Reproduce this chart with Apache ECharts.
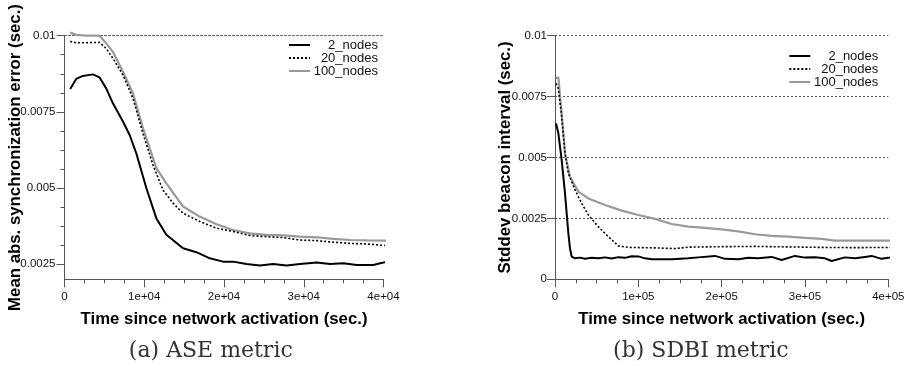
<!DOCTYPE html>
<html><head><meta charset="utf-8">
<script src="https://cdn.jsdelivr.net/npm/echarts@6/dist/echarts.min.js"></script>
<style>html,body{margin:0;padding:0;background:#fff}#c{width:915px;height:368px}</style>
</head><body><div id="c"></div>
<script>
// ---- Data: (a) ASE metric ----
const aseT2 = [712,1466,2300,3560,4400,5230,6070,7330,8170,9000,10260,11520,12770,14870,16540,18220,19890,21150,22820,24500,26170,27850,29520,31620,33290,34970,36640,38740,39570,40700];
const aseV2 = [0.00825,0.00858,0.00868,0.00873,0.00863,0.00827,0.00778,0.00718,0.00674,0.00614,0.0050,0.0040,0.00346,0.00302,0.00289,0.00269,0.00258,0.00258,0.0025,0.00245,0.0025,0.00245,0.0025,0.00255,0.0025,0.00253,0.00247,0.00247,0.00253,0.00258];
const aseT20 = [712,1466,2720,4400,5230,6070,7330,8590,9840,11100,12350,13610,14870,16960,19050,21150,23240,25330,27430,29520,31620,33710,35800,37900,40700];
const aseV20 = [0.00981,0.00977,0.00977,0.00978,0.00958,0.00926,0.00871,0.00794,0.00679,0.00575,0.00493,0.0045,0.00417,0.0039,0.00368,0.00357,0.00344,0.0034,0.00337,0.00329,0.00327,0.00322,0.00318,0.00316,0.0031];
const aseT100 = [712,1466,2720,4400,5230,6070,7330,8590,9840,11520,12770,14870,16960,19050,21150,23240,25330,27430,29520,31620,33710,35800,37900,40700];
const aseV100 = [0.0101,0.01003,0.01,0.01,0.00975,0.00947,0.00882,0.0081,0.00696,0.00565,0.00515,0.00439,0.00406,0.00381,0.00362,0.00351,0.00346,0.00344,0.0034,0.00338,0.00333,0.00329,0.00328,0.00327];

// ---- Data: (b) SDBI metric ----
const sdT2 = [1200,4000,8000,12000,16000,18000,20000,24000,30000,36000,44000,52000,60000,68000,76000,84000,92000,100000,108000,116000,140000,160000,172000,192000,204000,220000,232000,244000,260000,272000,288000,300000,312000,324000,332000,348000,360000,372000,380000,392000,400000,408000];
const sdV2 = [0.0064,0.0060,0.0049,0.00353,0.00189,0.00127,0.00093,0.00086,0.00089,0.00084,0.00088,0.00086,0.00090,0.00085,0.00091,0.00088,0.00095,0.00094,0.00086,0.00082,0.00082,0.00086,0.00090,0.00096,0.00084,0.00082,0.00088,0.00086,0.00092,0.00079,0.00096,0.00089,0.00091,0.00086,0.00075,0.00090,0.00086,0.00092,0.00096,0.00084,0.00088,0.00093];
const sdT20 = [1200,4000,8000,12000,16000,24000,32000,40000,52000,64000,76000,88000,120000,144000,160000,200000,240000,280000,320000,360000,408000];
const sdV20 = [0.00804,0.00784,0.00668,0.00517,0.00435,0.00367,0.00312,0.00264,0.00216,0.00175,0.00137,0.00131,0.00129,0.00126,0.00132,0.00134,0.00135,0.00133,0.00131,0.0013,0.00131];
const sdT100 = [1200,4000,8000,12000,18000,28000,40000,60000,80000,100000,120000,140000,160000,180000,200000,220000,240000,260000,280000,300000,320000,336000,370000,408000];
const sdV100 = [0.00825,0.00829,0.00681,0.00517,0.00421,0.0036,0.00332,0.00305,0.00282,0.00264,0.00248,0.00227,0.00216,0.00211,0.00205,0.00197,0.00185,0.00178,0.00175,0.0017,0.00166,0.00159,0.00159,0.00159];

// ---- Labels / ticks ----
const seriesNames = ['2_nodes','20_nodes','100_nodes'];
const xLabelsA = ['0','1e+04','2e+04','3e+04','4e+04'];
const xLabelsB = ['0','1e+05','2e+05','3e+05','4e+05'];
const yTicksA = [0.0025,0.005,0.0075,0.01];
const yLabelsA = ['0.0025','0.005','0.0075','0.01'];
const yMinorA = [0.003125,0.00375,0.004375,0.005625,0.00625,0.006875,0.008125,0.00875,0.009375];
const yLabelsB = ['0','0.0025','0.005','0.0075','0.01'];

const pairs = (t, v) => t.map((x, i) => [x, v[i]]);
const FONT = 'Liberation Sans';
const styles = [
  {color:'#000', width:2, type:'solid'},
  {color:'#000', width:1.6, type:[2,2]},
  {color:'#999', width:2.2, type:'solid'}
];
const axisCol = '#555';
const nameStyle = {fontSize:16.8, fontWeight:'bold', fontFamily:FONT, color:'#000'};
const LEGEND_A_LEFT = 283;

function mkSeries(name, idx, data, gi, extra) {
  return Object.assign({
    name, type:'line', xAxisIndex: gi, yAxisIndex: gi === 0 ? 0 : 2,
    data, symbol:'none', showSymbol:false, clip:false, animation:false,
    lineStyle: Object.assign({}, styles[idx]), itemStyle:{color: styles[idx].color},
    z: 3 - idx
  }, extra || {});
}

const chart = echarts.init(document.getElementById('c'), null, {renderer:'canvas'});
const legendCommon = {
  orient:'vertical', itemGap:0, itemWidth:21, itemHeight:13, padding:[5,0,5,5],
  data: seriesNames, selectedMode:false,
  itemStyle:{opacity:0},
  formatter: '{r|{name}}',
  textStyle: {rich:{r:{width:63, align:'right', fontSize:13, fontFamily:FONT, color:'#111', lineHeight:13}}}
};
const tickAxis = (labels, interval) => ({
  fontSize:11.5, fontFamily:FONT, color:'#111',
  formatter: v => labels[Math.round(v / interval)]
});
const gridMarkLine = (dataArr) => ({
  silent:true, z:1, symbol:['none','none'], animation:false, label:{show:false},
  lineStyle:{type:[2,2], color:'#555', width:1}, emphasis:{disabled:true}, data:dataArr
});
// x value where the top grid line of chart (a) stops (left edge of its legend box)
const topTick = yTicksA[yTicksA.length - 1];

chart.setOption({
  animation:false,
  grid: [
    {left:64.5, top:35.7, width:319, height:243.6},
    {left:555, top:35.7, width:333.3, height:243.6}
  ],
  legend: [
    Object.assign({left:LEGEND_A_LEFT, top:33.5, z:20}, legendCommon),
    Object.assign({left:783.3, top:44.5, z:20}, legendCommon)
  ],
  xAxis: [
    {type:'value', gridIndex:0, min:0, max:40000, interval:10000,
     name:'Time since network activation (sec.)', nameLocation:'middle', nameGap:32, nameMoveOverlap:false,
     nameTextStyle:nameStyle,
     axisLine:{lineStyle:{color:axisCol}}, axisTick:{length:8, lineStyle:{color:axisCol}},
     minorTick:{show:true, splitNumber:4, length:4, lineStyle:{color:axisCol}},
     splitLine:{show:false}, axisLabel: Object.assign({margin:12}, tickAxis(xLabelsA, 10000))},
    {type:'value', gridIndex:1, min:0, max:400000, interval:100000,
     name:'Time since network activation (sec.)', nameLocation:'middle', nameGap:32, nameMoveOverlap:false,
     nameTextStyle:nameStyle,
     axisLine:{lineStyle:{color:axisCol}}, axisTick:{length:8, lineStyle:{color:axisCol}},
     minorTick:{show:true, splitNumber:4, length:4, lineStyle:{color:axisCol}},
     splitLine:{show:false}, axisLabel: Object.assign({margin:12}, tickAxis(xLabelsB, 100000))}
  ],
  yAxis: [
    {type:'value', gridIndex:0, position:'left', min:0.002, max:0.01,
     name:'Mean abs. synchronization error (sec.)', nameLocation:'middle', nameGap:41, nameMoveOverlap:false,
     nameTextStyle:nameStyle,
     axisLine:{show:true, lineStyle:{color:axisCol}},
     axisTick:{show:true, length:8, customValues: yTicksA, lineStyle:{color:axisCol}},
     splitLine:{show:false},
     axisLabel:{margin:9, fontSize:11.5, fontFamily:FONT, color:'#111', customValues: yTicksA,
       formatter: v => yLabelsA[yTicksA.findIndex(t => Math.abs(t - v) < 1e-7)]}},
    {type:'value', gridIndex:0, position:'left', offset:0, min:0.002, max:0.01,
     axisLine:{show:true, lineStyle:{color:axisCol}}, axisLabel:{show:false}, splitLine:{show:false},
     axisTick:{show:true, length:4, customValues: yMinorA, lineStyle:{color:axisCol}}},
    {type:'value', gridIndex:1, position:'left', min:0, max:0.01, interval:0.0025,
     name:'Stddev beacon interval (sec.)', nameLocation:'middle', nameGap:41.5, nameMoveOverlap:false,
     nameTextStyle:nameStyle,
     axisLine:{show:true, lineStyle:{color:axisCol}},
     axisTick:{show:true, length:8, lineStyle:{color:axisCol}},
     splitLine:{show:true, lineStyle:{type:[2,2], color:'#555', width:1}},
     axisLabel: Object.assign({margin:8}, tickAxis(yLabelsB, 0.0025))}
  ],
  series: [
    mkSeries(seriesNames[0], 0, pairs(aseT2, aseV2), 0),
    mkSeries(seriesNames[1], 1, pairs(aseT20, aseV20), 0),
    mkSeries(seriesNames[2], 2, pairs(aseT100, aseV100), 0),
    mkSeries(seriesNames[0], 0, pairs(sdT2, sdV2), 1),
    mkSeries(seriesNames[1], 1, pairs(sdT20, sdV20), 1),
    mkSeries(seriesNames[2], 2, pairs(sdT100, sdV100), 1)
  ],
  graphic: [
    {type:'text', style:{text:'(a) ASE metric', x:210.8, y:351.7, align:'center', verticalAlign:'middle', font:'22px "DejaVu Serif"', fill:'#333'}},
    {type:'text', style:{text:'(b) SDBI metric', x:700.8, y:351.7, align:'center', verticalAlign:'middle', font:'22px "DejaVu Serif"', fill:'#333'}}
  ]
});
const xStop = chart.convertFromPixel({xAxisIndex:0, yAxisIndex:0}, [LEGEND_A_LEFT, 100])[0];
const mlData = yTicksA.slice(0, -1).map(v => ({yAxis:v}));
mlData.push([{coord:[0, topTick], lineStyle:{color:'#555'}}, {coord:[xStop, topTick]}]);
chart.setOption({series:[{markLine: gridMarkLine(mlData)}]});
</script>
</body></html>
